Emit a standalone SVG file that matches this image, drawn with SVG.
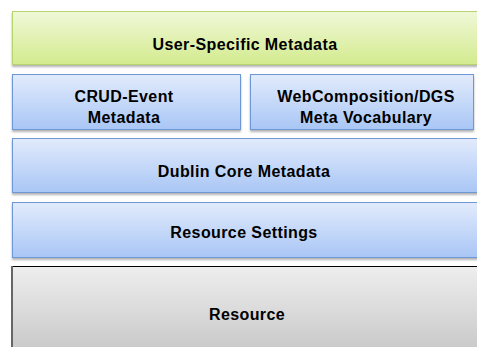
<svg xmlns="http://www.w3.org/2000/svg" width="477" height="347" viewBox="0 0 477 347">
<defs>
<linearGradient id="gGreen" x1="0" y1="0" x2="0" y2="1">
<stop offset="0" stop-color="#f0f8d8"/>
<stop offset="1" stop-color="#d3eb8e"/>
</linearGradient>
<linearGradient id="gBlue" x1="0" y1="0" x2="0" y2="1">
<stop offset="0" stop-color="#e2ebfc"/>
<stop offset="1" stop-color="#a9c6f5"/>
</linearGradient>
<linearGradient id="gGray" x1="0" y1="0" x2="0" y2="1">
<stop offset="0" stop-color="#eeeeee"/>
<stop offset="1" stop-color="#c6c6c6"/>
</linearGradient>
<filter id="sh" x="-5%" y="-10%" width="110%" height="130%">
<feDropShadow dx="0" dy="2" stdDeviation="1" flood-color="#000" flood-opacity="0.3"/>
</filter>
</defs>
<style>
text{font-family:"Liberation Sans",Arial,sans-serif;font-weight:bold;font-size:16px;letter-spacing:0.4px;fill:#000;text-anchor:middle}
.green{fill:url(#gGreen);stroke:#b5d46c;stroke-width:1}
.blue{fill:url(#gBlue);stroke:#6e97d6;stroke-width:1}
.gray{fill:url(#gGray);stroke:#000;stroke-width:1}
</style>
<rect width="477" height="347" fill="#ffffff"/>
<g id="user-specific">
<rect class="green" x="12.5" y="11.5" width="470" height="53" filter="url(#sh)"/>
<text x="245" y="50">User-Specific Metadata</text>
</g>
<g id="crud-event">
<rect class="blue" x="12.5" y="74.5" width="228" height="55" filter="url(#sh)"/>
<text x="124" y="102">CRUD-Event</text>
<text x="124" y="123">Metadata</text>
</g>
<g id="webcomposition">
<rect class="blue" x="250.5" y="74.5" width="223" height="55" filter="url(#sh)"/>
<text x="366" y="102">WebComposition/DGS</text>
<text x="366" y="123">Meta Vocabulary</text>
</g>
<g id="dublin-core">
<rect class="blue" x="12.5" y="138.5" width="470" height="54" filter="url(#sh)"/>
<text x="244" y="177">Dublin Core Metadata</text>
</g>
<g id="resource-settings">
<rect class="blue" x="12.5" y="202.5" width="470" height="55" filter="url(#sh)"/>
<text x="244" y="238">Resource Settings</text>
</g>
<g id="resource">
<rect class="gray" x="12" y="266.5" width="470" height="90"/>
<line x1="12" y1="266" x2="12" y2="347" stroke="#666" stroke-width="2"/>
<text x="247" y="320">Resource</text>
</g>
<g id="connectors"/>
</svg>
